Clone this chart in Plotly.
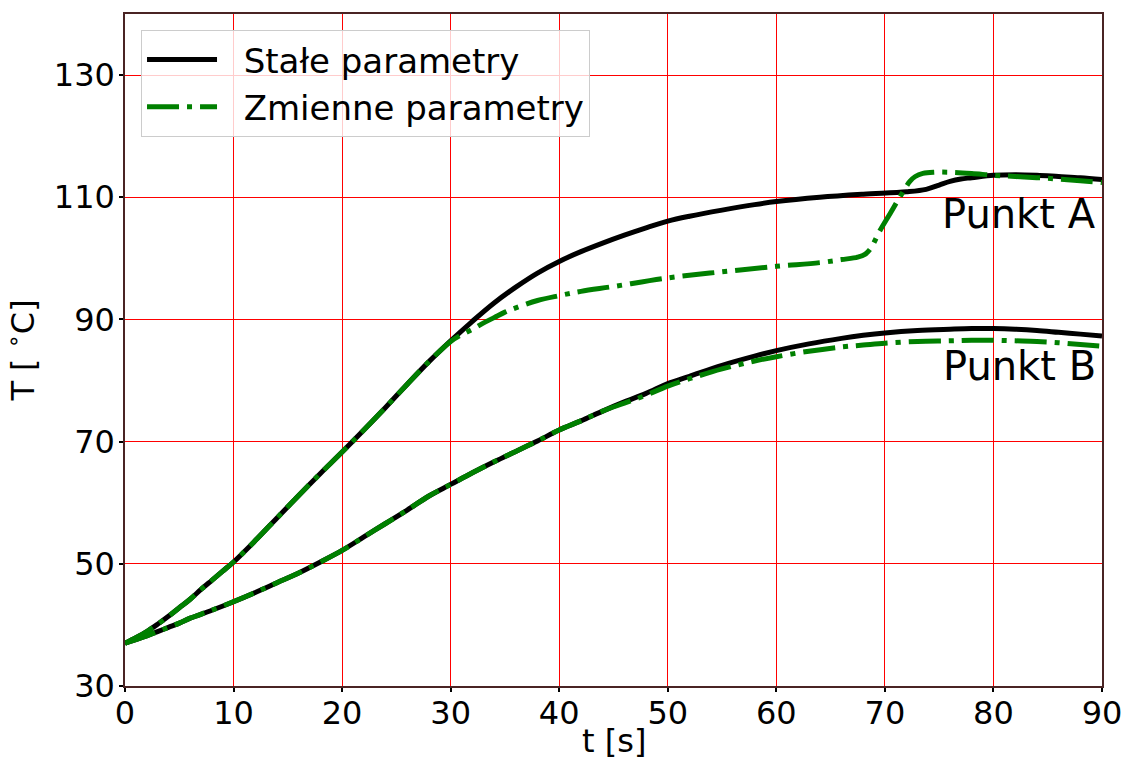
import plotly.graph_objects as go

# Temperature histories at two measuring points, constant vs variable parameters
t_stale_A = [0, 1, 2, 3, 4, 5, 6, 7, 8, 9, 10, 12, 14, 16, 18, 20, 22, 24, 26, 28, 30,
             32, 34, 36, 38, 40, 42, 44, 46, 48, 50, 52, 55, 58, 60, 64, 68, 72, 73.8,
             75, 76, 77, 78, 80, 82, 84, 86, 88, 90]
T_stale_A = [37.0, 37.9, 38.9, 40.1, 41.4, 42.8, 44.2, 45.8, 47.3, 48.8, 50.3, 53.8, 57.5,
             61.2, 64.8, 68.3, 71.9, 75.6, 79.4, 83.1, 86.5, 89.7, 92.7, 95.3, 97.6, 99.5,
             101.1, 102.5, 103.8, 105.0, 106.1, 106.9, 107.9, 108.8, 109.3, 110.0, 110.5,
             110.9, 111.3, 112.0, 112.6, 113.0, 113.2, 113.6, 113.7, 113.6, 113.4, 113.2, 112.9]

t_stale_B = [0, 1, 2, 3, 4, 5, 6, 8, 10, 12, 14, 16, 18, 20, 22, 24, 26, 28, 30, 32, 34,
             36, 38, 40, 42, 44, 46, 48, 50, 52, 55, 58, 60, 63, 66, 68, 70, 73, 76, 78,
             80, 82, 84, 86, 88, 90]
T_stale_B = [37.0, 37.6, 38.2, 38.9, 39.6, 40.3, 41.1, 42.4, 43.8, 45.3, 46.9, 48.5, 50.3,
             52.2, 54.4, 56.6, 58.8, 61.1, 63.0, 64.9, 66.7, 68.4, 70.1, 71.9, 73.4, 75.0,
             76.5, 77.9, 79.5, 80.7, 82.5, 84.0, 84.9, 86.0, 86.9, 87.4, 87.8, 88.2, 88.4,
             88.5, 88.5, 88.4, 88.2, 87.9, 87.6, 87.3]

t_zmienne_A = [0, 1, 2, 3, 4, 5, 6, 7, 8, 9, 10, 12, 14, 16, 18, 20, 22, 24, 26, 28, 30,
               31, 32, 33, 34, 35, 36, 38, 40, 42, 45, 50, 55, 60, 64, 66, 67.5, 68.2,
               68.6, 69, 69.5, 70.5, 71.5, 72.3, 72.8, 73.5, 74.5, 76, 78, 80, 82, 85, 88, 90]
T_zmienne_A = [37.0, 37.9, 38.9, 40.1, 41.4, 42.8, 44.2, 45.8, 47.3, 48.8, 50.3, 53.8, 57.5,
               61.2, 64.8, 68.3, 71.9, 75.6, 79.4, 83.1, 86.4, 87.5, 88.4, 89.4, 90.3, 91.2,
               91.9, 93.1, 93.9, 94.6, 95.4, 96.8, 97.8, 98.7, 99.3, 99.8, 100.2, 100.7,
               101.4, 102.6, 104.4, 107.4, 110.4, 112.6, 113.4, 113.9, 114.1, 114.1, 113.9,
               113.6, 113.4, 113.1, 112.7, 112.4]

t_zmienne_B = [0, 1, 2, 3, 4, 5, 6, 8, 10, 12, 14, 16, 18, 20, 22, 24, 26, 28, 30, 32, 34,
               36, 38, 40, 42, 44, 46, 48, 50, 52, 55, 58, 60, 63, 66, 68, 70, 73, 76, 78,
               80, 82, 84, 86, 88, 90]
T_zmienne_B = [37.0, 37.6, 38.2, 38.9, 39.6, 40.3, 41.1, 42.4, 43.8, 45.3, 46.9, 48.5, 50.3,
               52.2, 54.4, 56.6, 58.8, 61.1, 63.0, 64.9, 66.7, 68.4, 70.1, 71.9, 73.4, 75.0,
               76.3, 77.6, 79.1, 80.3, 81.9, 83.2, 83.9, 84.8, 85.5, 85.8, 86.1, 86.4, 86.5,
               86.6, 86.6, 86.5, 86.4, 86.2, 85.9, 85.6]

x_ticks = [0, 10, 20, 30, 40, 50, 60, 70, 80, 90]
y_ticks = [30, 50, 70, 90, 110, 130]

FONT = "DejaVu Sans"
BLACK = "#000000"
GREEN = "#008000"
DASHDOT = "32px,8px,5px,8px"
PAD = "\u00a0\u00a0"

W, H = 1124, 762
M_L, M_R, M_T, M_B = 125, 22, 14, 76
plot_h = H - M_T - M_B

fig = go.Figure()

fig.add_trace(go.Scatter(x=t_stale_A, y=T_stale_A, mode="lines", name=PAD + "Stałe parametry",
                         line=dict(color=BLACK, width=5, shape="spline"),
                         legendgroup="s"))
fig.add_trace(go.Scatter(x=t_stale_B, y=T_stale_B, mode="lines", name=PAD + "Stałe parametry",
                         line=dict(color=BLACK, width=5, shape="spline"),
                         legendgroup="s", showlegend=False))
fig.add_trace(go.Scatter(x=t_zmienne_A, y=T_zmienne_A, mode="lines", name=PAD + "Zmienne parametry",
                         line=dict(color=GREEN, width=5, dash=DASHDOT, shape="spline"),
                         legendgroup="z"))
fig.add_trace(go.Scatter(x=t_zmienne_B, y=T_zmienne_B, mode="lines", name=PAD + "Zmienne parametry",
                         line=dict(color=GREEN, width=5, dash=DASHDOT, shape="spline"),
                         legendgroup="z", showlegend=False))

fig.add_annotation(x=89.6, y=111.3, xref="x", yref="y", text="Punkt A", showarrow=False,
                   xanchor="right", yanchor="top", font=dict(family=FONT, size=40, color="black"))
fig.add_annotation(x=89.6, y=86.4, xref="x", yref="y", text="Punkt B", showarrow=False,
                   xanchor="right", yanchor="top", font=dict(family=FONT, size=40, color="black"))

# x-axis title placed just under the tick labels, resting on the bottom edge
fig.add_annotation(x=0.5, y=-M_B / plot_h, xref="paper", yref="paper",
                   text="t [s]", showarrow=False, xanchor="center", yanchor="bottom",
                   font=dict(family=FONT, size=32, color="black"))

axis_common = dict(
    showgrid=True, gridcolor="#ff0000", gridwidth=1,
    showline=True, linecolor="#4a2424", linewidth=1.5, mirror=True,
    ticks="outside", ticklen=4, tickwidth=1.5, tickcolor="black",
    tickfont=dict(family=FONT, size=32, color="black"),
    zeroline=False, automargin=False,
)

fig.update_xaxes(range=[0, 90], tickvals=x_ticks, ticklabelstandoff=-6, **axis_common)
fig.update_yaxes(range=[30, 140], tickvals=y_ticks, ticklabelstandoff=-2,
                 title=dict(text="T [ <sup>∘</sup>C]", font=dict(family=FONT, size=32, color="black"),
                            standoff=12),
                 **axis_common)

fig.update_layout(
    width=W, height=H,
    margin=dict(l=M_L, r=M_R, t=M_T, b=M_B),
    paper_bgcolor="white", plot_bgcolor="white",
    font=dict(family=FONT, color="black"),
    legend=dict(x=0.0164, y=(H - M_B - 30) / plot_h, xanchor="left", yanchor="top",
                bgcolor="rgba(255,255,255,0.8)", bordercolor="#cccccc", borderwidth=1,
                font=dict(family=FONT, size=34, color="black"),
                itemwidth=70, tracegroupgap=0),
    showlegend=True,
)

fig.write_html("out.html")
